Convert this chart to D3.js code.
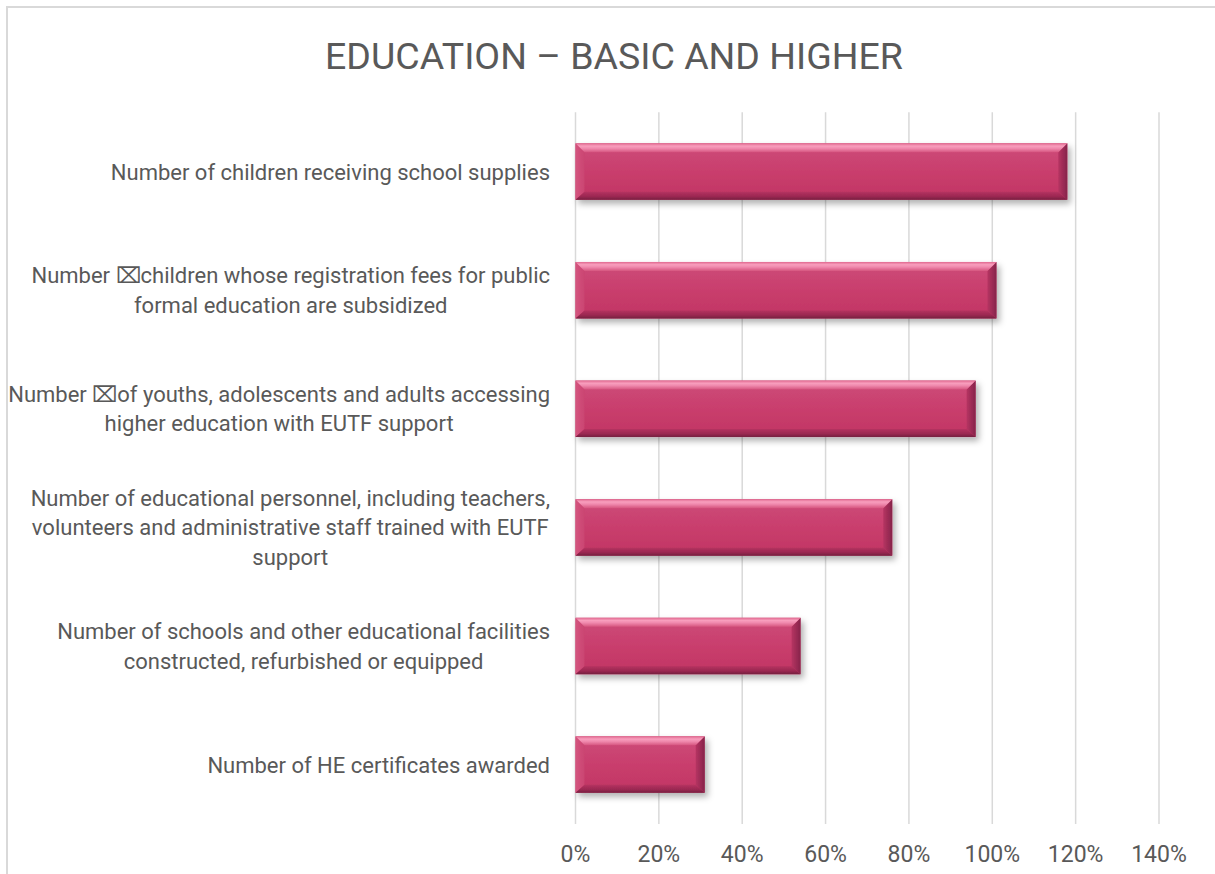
<!DOCTYPE html>
<html>
<head>
<meta charset="utf-8">
<script src="https://cdn.jsdelivr.net/npm/d3@7"></script>
<style>
  html, body { margin: 0; padding: 0; background: #ffffff; }
  svg { display: block; }
  text { font-family: Roboto, "Open Sans", sans-serif; fill: #595959; }
</style>
</head>
<body>
<svg id="chart" width="1215" height="874"></svg>
<script>
// Indicator labels (top to bottom), each split into its display lines
const categories = [
  ["Number of children receiving school supplies"],
  ["Number \u2327children whose registration fees for public", "formal education are subsidized"],
  ["Number \u2327of youths, adolescents and adults accessing", "higher education with EUTF support"],
  ["Number of educational personnel, including teachers,", "volunteers and administrative staff trained with EUTF", "support"],
  ["Number of schools and other educational facilities", "constructed, refurbished or equipped"],
  ["Number of HE certificates awarded"]
];
// Achievement rate (%) per indicator
const values = [118, 101, 96, 76, 54, 31];
// Percentage axis ticks
const ticks = [0, 20, 40, 60, 80, 100, 120, 140];
const title = "EDUCATION \u2013 BASIC AND HIGHER";

const svg = d3.select("#chart");
const W = 1215, H = 874;

// Chart area frame
svg.append("rect")
  .attr("x", 7).attr("y", 7)
  .attr("width", W + 20).attr("height", H + 20)
  .attr("fill", "#ffffff")
  .attr("stroke", "#d9d9d9").attr("stroke-width", 2);

// Scales
const x = d3.scaleLinear().domain([0, 140]).range([575.5, 1159]);
const y = d3.scaleBand()
  .domain(d3.range(categories.length))
  .range([112.3, 823.9])
  .paddingInner(0.524)
  .paddingOuter(0.262);

// Gradients and shadow
const defs = svg.append("defs");
function vGrad(id, stops) {
  const g = defs.append("linearGradient").attr("id", id)
    .attr("x1", 0).attr("y1", 0).attr("x2", 0).attr("y2", 1);
  stops.forEach(s => g.append("stop").attr("offset", s[0]).attr("stop-color", s[1]));
}
function hGrad(id, stops) {
  const g = defs.append("linearGradient").attr("id", id)
    .attr("x1", 0).attr("y1", 0).attr("x2", 1).attr("y2", 0);
  stops.forEach(s => g.append("stop").attr("offset", s[0]).attr("stop-color", s[1]));
}
vGrad("gBody", [[0, "#cd4c79"], [0.5, "#c93e6d"], [1, "#c13563"]]);
vGrad("gTop", [[0, "#e0688f"], [0.3, "#f89ebd"], [0.55, "#f08aae"], [1, "#d6557f"]]);
vGrad("gBottom", [[0, "#b53260"], [0.6, "#9a2851"], [1, "#74203f"]]);
hGrad("gLeft", [[0, "#d4557f"], [1, "#ca4471"]]);
hGrad("gRight", [[0, "#b63462"], [1, "#86244a"]]);

const f = defs.append("filter").attr("id", "shadow")
  .attr("x", "-5%").attr("y", "-20%").attr("width", "115%").attr("height", "160%");
f.append("feDropShadow").attr("dx", 3).attr("dy", 4)
  .attr("stdDeviation", 3).attr("flood-color", "#000").attr("flood-opacity", 0.3);

// Vertical gridlines
svg.append("g").selectAll("line")
  .data(ticks).join("line")
  .attr("x1", d => x(d)).attr("x2", d => x(d))
  .attr("y1", 112.3).attr("y2", 823.9)
  .attr("stroke", "#d9d9d9").attr("stroke-width", 1.5);

// Bevelled bars
const bars = svg.append("g").selectAll("g")
  .data(values).join("g")
  .attr("filter", "url(#shadow)");

bars.each(function(v, i) {
  const g = d3.select(this);
  const x0 = x(0), x1 = x(v);
  const y0 = y(i), y1 = y(i) + y.bandwidth();
  const b = 9, bb = 8;
  const pts = a => a.map(p => p.join(",")).join(" ");
  g.append("rect").attr("x", x0).attr("y", y0)
    .attr("width", x1 - x0).attr("height", y1 - y0).attr("fill", "url(#gBody)");
  g.append("polygon").attr("fill", "url(#gLeft)")
    .attr("points", pts([[x0, y0], [x0 + b, y0 + b], [x0 + b, y1 - bb], [x0, y1]]));
  g.append("polygon").attr("fill", "url(#gRight)")
    .attr("points", pts([[x1, y0], [x1 - b, y0 + b], [x1 - b, y1 - bb], [x1, y1]]));
  g.append("polygon").attr("fill", "url(#gTop)")
    .attr("points", pts([[x0, y0], [x1, y0], [x1 - b, y0 + b], [x0 + b, y0 + b]]));
  g.append("polygon").attr("fill", "url(#gBottom)")
    .attr("points", pts([[x0, y1], [x1, y1], [x1 - b, y1 - bb], [x0 + b, y1 - bb]]));
});

// Category labels: lines centred on the longest line, block right-aligned
const labelRight = 550, lineH = 29.5, labelSize = 22;
const labels = svg.append("g").attr("font-size", labelSize);
categories.forEach((lines, i) => {
  const cy = y(i) + y.bandwidth() / 2;
  const grp = labels.append("g");
  const ts = grp.selectAll("text").data(lines).join("text")
    .attr("text-anchor", "middle")
    .attr("y", (d, k) => cy + (k - (lines.length - 1) / 2) * lineH + labelSize * 0.36)
    .text(d => d);
  let maxW = 0;
  ts.each(function() { maxW = Math.max(maxW, this.getComputedTextLength()); });
  ts.attr("x", labelRight - maxW / 2);
});

// Percentage axis labels
svg.append("g").selectAll("text")
  .data(ticks).join("text")
  .attr("x", d => x(d)).attr("y", 862)
  .attr("text-anchor", "middle")
  .attr("font-size", 23)
  .text(d => d + "%");

// Title
svg.append("text")
  .attr("x", 614).attr("y", 69)
  .attr("text-anchor", "middle")
  .attr("font-size", 37.5)
  .text(title);
</script>
</body>
</html>
